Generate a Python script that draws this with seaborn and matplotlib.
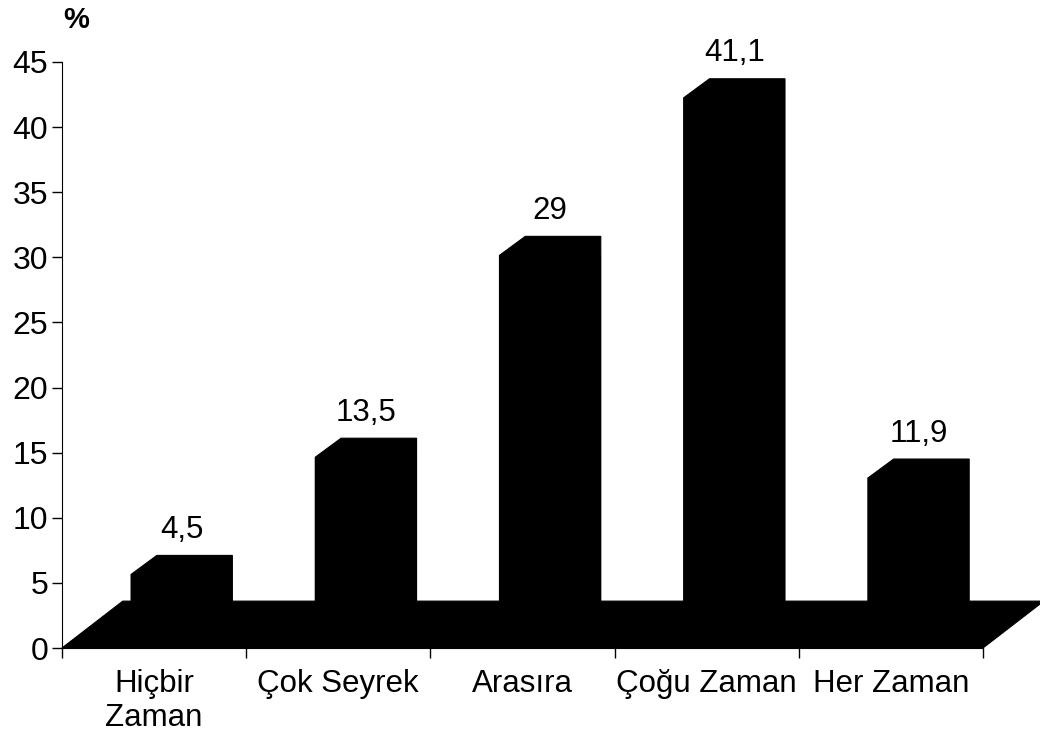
import matplotlib.pyplot as plt
import pandas as pd
import seaborn as sns
from matplotlib.patches import Polygon

categories = ["Hiçbir\nZaman", "Çok Seyrek", "Arasıra", "Çoğu Zaman", "Her Zaman"]
values = [4.5, 13.5, 29, 41.1, 11.9]
value_labels = ["4,5", "13,5", "29", "41,1", "11,9"]
y_ticks = [0, 5, 10, 15, 20, 25, 30, 35, 40, 45]


def main():
    sns.set_style("white")
    plt.rcParams["font.family"] = ["Liberation Sans", "DejaVu Sans"]
    plt.rcParams["text.color"] = "black"
    plt.rcParams["xtick.color"] = "black"
    plt.rcParams["ytick.color"] = "black"

    df = pd.DataFrame({"category": categories, "value": values})

    fig = plt.figure(figsize=(10.4, 7.45), dpi=100)
    ax = fig.add_axes([0.0596, 0.1302, 0.8856, 0.7866])

    # 3d look: floor depth and bar depth in data units
    floor_h = 3.6
    floor_dx = 0.33
    bar_shift = 0.15
    bar_lift = 1.15
    top_dx = 0.14
    top_dy = 1.46

    floor = Polygon(
        [(-0.5, 0), (-0.5 + floor_dx, floor_h), (4.5 + floor_dx, floor_h), (4.5, 0)],
        closed=True, facecolor="black", edgecolor="black", linewidth=0.8,
        clip_on=False, zorder=1,
    )
    ax.add_patch(floor)

    sns.barplot(
        data=df, x="category", y="value", color="black", saturation=1,
        width=0.55, ax=ax, zorder=2, edgecolor="black", linewidth=0,
    )

    bars = [p for p in ax.patches if p is not floor]
    for patch, val, lab in zip(bars, values, value_labels):
        patch.set_x(patch.get_x() + bar_shift)
        patch.set_y(bar_lift)
        left = patch.get_x()
        right = left + patch.get_width()
        top = bar_lift + patch.get_height()
        # full bar outline with the bevelled top-left corner
        ax.add_patch(Polygon(
            [(left, bar_lift), (left, top), (left + top_dx, top + top_dy),
             (right, top + top_dy), (right, bar_lift)],
            closed=True, facecolor="black", edgecolor="black",
            linewidth=0.8, zorder=3,
        ))
        ax.text(left + patch.get_width() / 2, val + 3.4, lab,
                ha="center", va="bottom", fontsize=22.5)

    ax.set_xlim(-0.5, 4.5)
    ax.set_ylim(0, 45)
    ax.set_yticks(y_ticks)
    ax.tick_params(axis="y", labelsize=23, length=7, width=1, pad=3,
                   direction="out", left=True)

    ax.set_xticks([-0.5, 0.5, 1.5, 2.5, 3.5, 4.5])
    ax.set_xticklabels([])
    ax.set_xticks(range(len(categories)), minor=True)
    ax.set_xticklabels(categories, minor=True, fontsize=22.5, linespacing=1.2)
    ax.tick_params(axis="x", which="major", length=7, width=1, bottom=True)
    ax.tick_params(axis="x", which="minor", length=0, pad=15)

    ax.set_xlabel("")
    ax.set_ylabel("")
    for side in ["top", "right"]:
        ax.spines[side].set_visible(False)
    ax.spines["left"].set_color("black")
    ax.spines["bottom"].set_color("black")

    fig.text(76 / 1040, 1 - 20 / 745, "%", ha="center", va="center",
             fontsize=21, fontweight="bold")

    fig.savefig("out.png", dpi=100)


if __name__ == "__main__":
    main()
